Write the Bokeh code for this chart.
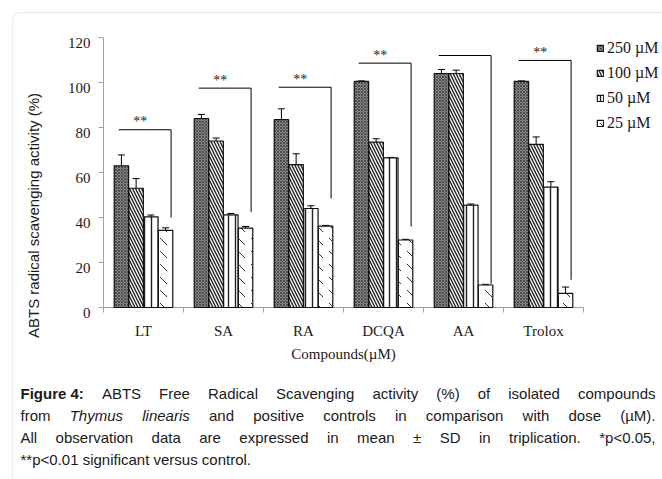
import math
from bokeh.plotting import figure
from bokeh.models import (ColumnDataSource, Range1d, Whisker, TeeHead,
                          Legend, LegendItem, Label, BoxAnnotation)
from bokeh.embed import file_html
from bokeh.resources import INLINE
from bokeh.core.properties import value

# ---------------- data ----------------
categories = ["LT", "SA", "RA", "DCQA", "AA", "Trolox"]
doses = ["250 µM", "100 µM", "50 µM", "25 µM"]
v250 = [63.0, 84.0, 83.5, 100.5, 104.0, 100.5]
v100 = [53.0, 74.0, 63.5, 73.5, 104.0, 72.5]
v50 = [40.3, 41.2, 44.0, 66.5, 45.5, 53.5]
v25 = [34.3, 35.3, 36.2, 30.0, 10.0, 6.3]
e250 = [4.8, 1.8, 4.8, 0.2, 1.8, 0.2]
e100 = [4.3, 1.3, 4.8, 1.5, 1.5, 3.3]
e50 = [0.8, 0.6, 1.2, 0.2, 0.5, 2.4]
e25 = [1.1, 0.7, 0.3, 0.3, 0.3, 2.8]
y_ticks = [0, 20, 40, 60, 80, 100, 120]
bracket_top = [79.0, 97.5, 97.9, 108.6, 112.0, 109.8]
bracket_bottom = [40.0, 42.4, 48.4, 36.0, 10.5, 12.3]
stars = ["**", "**", "**", "**", "", "**"]
x_title = "Compounds(µM)"
y_title = "ABTS radical scavenging activity (%)"

values = [v250, v100, v50, v25]
errors = [e250, e100, e50, e25]

# ---------------- layout / style ----------------
SERIF = "Liberation Serif"
SANS = "Liberation Sans"
AX = "#a0a0a0"
TXT = "#1a1a1a"
W, H = 662, 479
# plot area in canvas pixels: x 103..583 for 0..6 ; y 37..307 for 120..0
PX_X, PX_Y = 80.0, 2.25
x_lo = -103 / PX_X
x_hi = x_lo + W / PX_X
y_hi = y_ticks[-1] + 37 / PX_Y
y_lo = y_hi - H / PX_Y

offsets = [-0.276, -0.092, 0.092, 0.276]
bar_w = 0.18
styles = [
    dict(fill_color="#8a8a8a", hatch_pattern="diagonal_cross", hatch_scale=3,
         hatch_color="#3c3c3c", hatch_weight=0.8),
    dict(fill_color="white", hatch_pattern="left_diagonal_line", hatch_scale=6,
         hatch_color="#222222", hatch_weight=1.4),
    dict(fill_color="white", hatch_pattern="vertical_line", hatch_scale=7,
         hatch_color="#222222", hatch_weight=1.4),
    dict(fill_color="white", hatch_pattern="left_diagonal_dash", hatch_scale=13,
         hatch_color="#333333", hatch_weight=1.0),
]

p = figure(width=W, height=H, output_backend="svg", toolbar_location=None,
           x_range=Range1d(x_lo, x_hi), y_range=Range1d(y_lo, y_hi),
           x_axis_type=None, y_axis_type=None, min_border=0)
p.outline_line_color = None
p.xgrid.visible = False
p.ygrid.visible = False
p.background_fill_color = "white"
p.border_fill_color = "white"

n = len(categories)
centers = [i + 0.5 for i in range(n)]

# ---------- axes (drawn through the data scales) ----------
p.segment(x0=[0], y0=[y_ticks[0]], x1=[0], y1=[y_ticks[-1]], line_color=AX, line_width=1)
p.segment(x0=[0], y0=[0], x1=[n], y1=[0], line_color=AX, line_width=1)
p.ray(x=[0] * len(y_ticks), y=y_ticks, length=5, length_units="screen",
      angle=math.pi, line_color=AX, line_width=1)
p.ray(x=list(range(n + 1)), y=[0] * (n + 1), length=5, length_units="screen",
      angle=-math.pi / 2, line_color=AX, line_width=1)
p.text(x=[0] * len(y_ticks), y=y_ticks, text=[str(t) for t in y_ticks],
       x_offset=-13, y_offset=5, text_align="right", text_baseline="alphabetic",
       text_font=value(SERIF), text_font_size="15px", text_color=TXT)
p.text(x=centers, y=[0] * n, text=categories, y_offset=23, text_align="center",
       text_baseline="alphabetic", text_font=value(SERIF), text_font_size="15px",
       text_color=TXT)
p.text(x=[n / 2], y=[0], text=[x_title], y_offset=46, text_align="center",
       text_baseline="alphabetic", text_font=value(SERIF), text_font_size="15px",
       text_color=TXT)

# ---------- bars + error bars ----------
legend_items = []
for k, dose in enumerate(doses):
    xs = [c + offsets[k] for c in centers]
    src = ColumnDataSource(dict(x=xs, top=values[k],
                                upper=[v + e for v, e in zip(values[k], errors[k])],
                                lower=[v - e for v, e in zip(values[k], errors[k])]))
    r = p.vbar(x="x", top="top", bottom=0, width=bar_w, source=src,
               line_color="#111111", line_width=1.2, **styles[k])
    legend_items.append(LegendItem(label=dose, renderers=[r]))
    p.add_layout(Whisker(source=src, base="x", upper="upper", lower="lower",
                         line_color="black", line_width=1,
                         upper_head=TeeHead(size=7, line_color="black", line_width=1),
                         lower_head=TeeHead(size=7, line_color="black", line_width=1)))

# ---------- significance brackets ----------
bl, br = -0.31, 0.345
star_dx = -0.04
bx = [[c + bl, c + br, c + br] for c in centers]
by = [[t, t, b] for t, b in zip(bracket_top, bracket_bottom)]
p.multi_line(xs=bx, ys=by, line_color="black", line_width=1)
p.text(x=[c + star_dx for c in centers], y=bracket_top, text=stars,
       text_font=value(SERIF), text_font_size="14px", text_align="center",
       text_baseline="alphabetic", y_offset=-8, text_color="#222222")

# ---------- legend ----------
legend = Legend(items=legend_items, location=(596, 347), orientation="vertical",
                glyph_width=8, glyph_height=8, label_standoff=3, spacing=7,
                label_height=18, padding=0, margin=0, border_line_color=None,
                background_fill_alpha=0, label_text_font=SERIF,
                label_text_font_size="16px", label_text_color=TXT)
p.add_layout(legend)

# ---------- y title ----------
p.add_layout(Label(x=33, y=264, x_units="screen", y_units="screen",
                   text=y_title, angle=math.pi / 2,
                   text_align="center", text_baseline="middle", text_font=SANS,
                   text_font_size="15px", text_color=TXT))

# ---------- outer rounded frame ----------
p.add_layout(BoxAnnotation(left=12, right=W + 60, top=H - 12, bottom=-60,
                           left_units="screen", right_units="screen",
                           top_units="screen", bottom_units="screen",
                           fill_alpha=0, line_color="#c8c8c8", line_width=1.5,
                           border_radius=8))

# ---------- caption (justified, Arial/Liberation Sans metrics) ----------
REG = {' ': 278, '%': 889, '(': 333, ')': 333, '*': 389, ',': 278, '.': 278, ':': 278,
       '<': 584, '±': 549, 'µ': 576,
       'A': 667, 'B': 667, 'C': 722, 'D': 722, 'E': 667, 'F': 611, 'G': 778, 'H': 722,
       'I': 278, 'J': 500, 'K': 667, 'L': 556, 'M': 833, 'N': 722, 'O': 778, 'P': 667,
       'Q': 778, 'R': 722, 'S': 667, 'T': 611, 'U': 722, 'V': 667, 'W': 944, 'X': 667,
       'Y': 667, 'Z': 611,
       'a': 556, 'b': 556, 'c': 500, 'd': 556, 'e': 556, 'f': 278, 'g': 556, 'h': 556,
       'i': 222, 'j': 222, 'k': 500, 'l': 222, 'm': 833, 'n': 556, 'o': 556, 'p': 556,
       'q': 556, 'r': 333, 's': 500, 't': 278, 'u': 556, 'v': 500, 'w': 722, 'x': 500,
       'y': 500, 'z': 500}
BOLD = dict(REG)
BOLD.update({':': 333, 'i': 278, 'g': 611, 'u': 611, 'r': 389})


def text_width(s, style, size):
    tbl = BOLD if style == "bold" else REG
    return sum(tbl.get(ch, 556) for ch in s) * size / 1000.0


# each entry: (text, style, split_into_words)
cap_lines = [
    [("Figure 4:", "bold", False),
     ("ABTS Free Radical Scavenging activity (%) of isolated compounds", "normal", True)],
    [("from", "normal", True), ("Thymus linearis", "italic", True),
     ("and positive controls in comparison with dose (µM).", "normal", True)],
    [("All observation data are expressed in mean ± SD in triplication. *p<0.05,",
      "normal", True)],
    [("**p<0.01 significant versus control.", "normal", True)],
]
cap_justify = [True, True, True, False]
cap_size = 15
cap_x0, cap_x1 = 20, 655                          # canvas px
cap_base = [H - 393, H - 415, H - 437, H - 459]   # px above canvas bottom
for line, just, yb in zip(cap_lines, cap_justify, cap_base):
    words = []
    for txt, st, split in line:
        words += [(w, st) for w in txt.split()] if split else [(txt, st)]
    widths = [text_width(w, st, cap_size) for w, st in words]
    if just:
        gap = (cap_x1 - cap_x0 - sum(widths)) / (len(words) - 1)
    else:
        gap = text_width(" ", "normal", cap_size)
    x = cap_x0
    for (w, st), wd in zip(words, widths):
        p.add_layout(Label(x=x, y=yb, x_units="screen", y_units="screen", text=w,
                           text_font=SANS, text_font_size=f"{cap_size}px",
                           text_font_style=st, text_color=TXT,
                           text_align="left", text_baseline="alphabetic"))
        x += wd + gap

open("out.html", "w").write(file_html(p, INLINE))
